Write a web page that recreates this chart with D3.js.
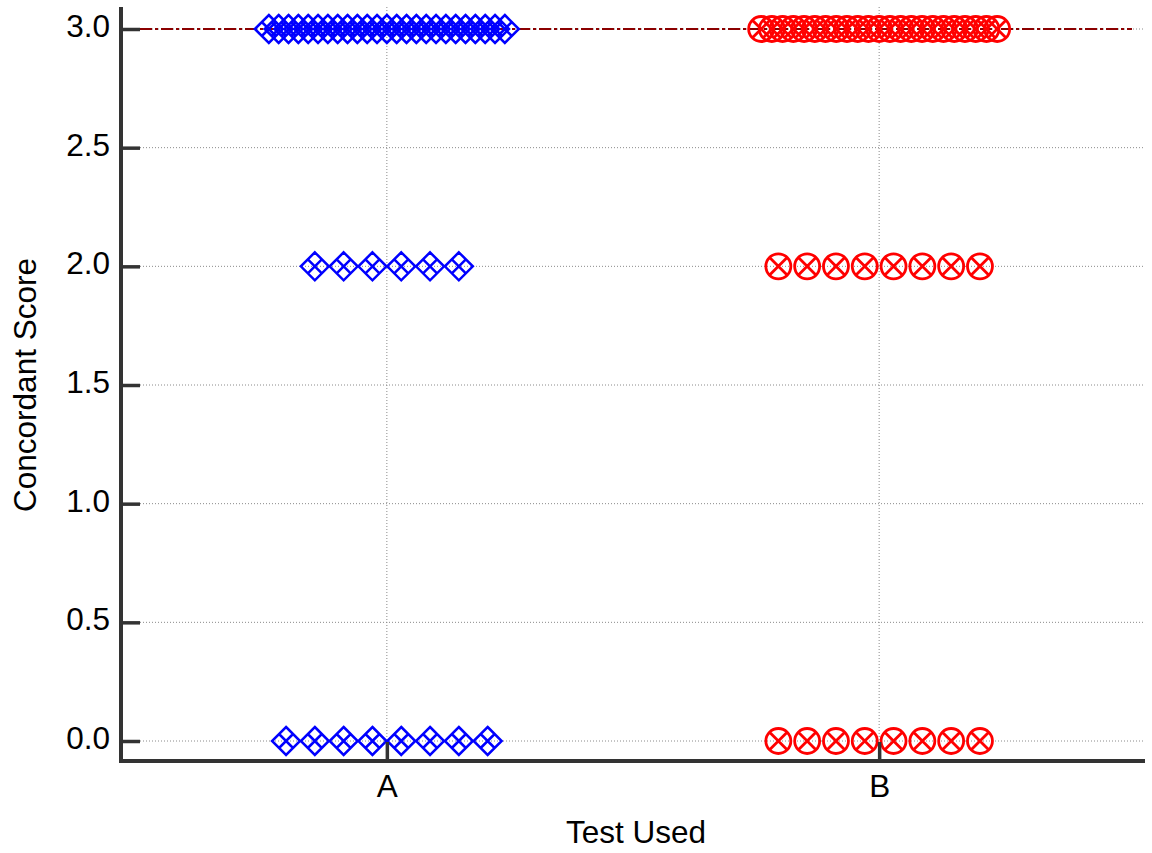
<!DOCTYPE html>
<html lang="en">
	<head>
		<meta charset="UTF-8" />
		<title>Concordant Score</title>
		<style>
			body { margin: 0; background: #fff; }
			text { font-family: "Liberation Sans", Arial, sans-serif; }
		</style>
	</head>
	<body>
		<svg id="svg" width="1152" height="853"></svg>
		<script src="https://d3js.org/d3.v7.min.js"></script>
		<script>
			// Data
			const categories = ['A', 'B'];
			const scoreLevels = [3, 2, 0];
			const countsA = [25, 6, 8];
			const countsB = [23, 8, 8];
			const medians = [3, 3];
			const yTicks = [0, 0.5, 1, 1.5, 2, 2.5, 3];

			const axisX = 121;
			const axisY = 761;
			const plotRight = 1145;
			const plotTop = 7;
			const tickLen = 19;
			const fontSize = 31.5;

			const svg = d3.select('#svg');

			// Scales
			const x = d3.scalePoint().domain(categories).range([axisX, plotRight]).padding(0.54);
			const y = d3.scaleLinear().domain([0, 3]).range([741, 29]);

			// Grid lines
			const grid = svg.append('g');
			grid.selectAll('line.h')
				.data(yTicks)
				.join('line')
				.attr('class', 'h')
				.attr('x1', axisX + tickLen)
				.attr('x2', plotRight)
				.attr('y1', (d) => y(d))
				.attr('y2', (d) => y(d))
				.attr('stroke', '#8a8a8a')
				.attr('stroke-width', 1)
				.attr('stroke-dasharray', '1,2');
			grid.selectAll('line.v')
				.data(categories)
				.join('line')
				.attr('class', 'v')
				.attr('x1', (d) => x(d))
				.attr('x2', (d) => x(d))
				.attr('y1', plotTop)
				.attr('y2', axisY - tickLen)
				.attr('stroke', '#8a8a8a')
				.attr('stroke-width', 1)
				.attr('stroke-dasharray', '1,2');

			// Median line
			svg.append('line')
				.attr('x1', axisX + tickLen)
				.attr('x2', 1132)
				.attr('y1', y(d3.max(medians)))
				.attr('y2', y(d3.max(medians)))
				.attr('stroke', '#8b0000')
				.attr('stroke-width', 2)
				.attr('stroke-dasharray', '12,3,3,3');

			// Dot positions
			const markerW = 28.8;
			const maxSpan = 236;
			function layout(cat, counts) {
				const pts = [];
				scoreLevels.forEach((lvl, i) => {
					const n = counts[i];
					const step = n > 1 ? Math.min(markerW, maxSpan / (n - 1)) : 0;
					for (let k = 0; k < n; k++) {
						pts.push({ cat: cat, score: lvl, dx: (k - (n - 1) / 2) * step });
					}
				});
				return pts;
			}
			const ptsA = layout('A', countsA);
			const ptsB = layout('B', countsB);

			// Diamond with cross (A)
			const r = 14;
			const diamond = `M0,${-r}L${r},0L0,${r}L${-r},0Z` +
				`M${-r / 2},${-r / 2}L${r / 2},${r / 2}M${r / 2},${-r / 2}L${-r / 2},${r / 2}`;
			svg.append('g')
				.selectAll('path')
				.data(ptsA)
				.join('path')
				.attr('transform', (d) => `translate(${x(d.cat) + d.dx},${y(d.score)})`)
				.attr('d', diamond)
				.attr('fill', 'none')
				.attr('stroke', '#0000ff')
				.attr('stroke-width', 2.5);

			// Circle with X (B)
			const cr = 12.5;
			const c = cr * 0.68;
			const circleX = `M${-cr},0A${cr},${cr} 0 1,0 ${cr},0A${cr},${cr} 0 1,0 ${-cr},0Z` +
				`M${-c},${-c}L${c},${c}M${c},${-c}L${-c},${c}`;
			svg.append('g')
				.selectAll('path')
				.data(ptsB)
				.join('path')
				.attr('transform', (d) => `translate(${x(d.cat) + d.dx},${y(d.score)})`)
				.attr('d', circleX)
				.attr('fill', 'none')
				.attr('stroke', '#ff0000')
				.attr('stroke-width', 2.8);

			// Axes
			const leftAxis = d3.axisLeft(y)
				.tickValues(yTicks)
				.tickFormat(d3.format('.1f'))
				.tickSize(-tickLen)
				.tickPadding(11);
			const gy = svg.append('g')
				.attr('transform', `translate(${axisX},0)`)
				.call(leftAxis);
			gy.select('.domain').remove();
			gy.selectAll('.tick line').attr('stroke', '#333').attr('stroke-width', 3.5);
			gy.selectAll('.tick text')
				.attr('font-size', fontSize)
				.attr('font-family', '"Liberation Sans", Arial, sans-serif')
				.attr('fill', '#000')
				.attr('dy', '0.24em');

			const bottomAxis = d3.axisBottom(x).tickSize(-tickLen).tickPadding(14);
			const gx = svg.append('g')
				.attr('transform', `translate(0,${axisY})`)
				.call(bottomAxis);
			gx.select('.domain').remove();
			gx.selectAll('.tick line').attr('stroke', '#333').attr('stroke-width', 3.5);
			gx.selectAll('.tick text')
				.attr('font-size', fontSize)
				.attr('font-family', '"Liberation Sans", Arial, sans-serif')
				.attr('fill', '#000');

			// Axis lines
			svg.append('path')
				.attr('d', `M${axisX},${plotTop}L${axisX},${axisY}L${plotRight},${axisY}`)
				.attr('fill', 'none')
				.attr('stroke', '#333')
				.attr('stroke-width', 4);

			// Axis titles
			svg.append('text')
				.attr('x', 636)
				.attr('y', 843)
				.attr('text-anchor', 'middle')
				.attr('font-size', fontSize)
				.text('Test Used');
			svg.append('text')
				.attr('transform', 'translate(36,385) rotate(-90)')
				.attr('text-anchor', 'middle')
				.attr('font-size', fontSize)
				.text('Concordant Score');
		</script>
</html>
